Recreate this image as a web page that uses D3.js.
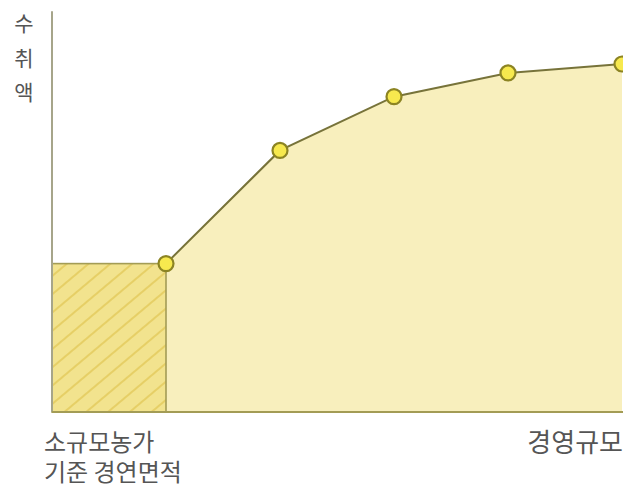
<!DOCTYPE html>
<html>
<head>
<meta charset="utf-8">
<script src="https://cdn.jsdelivr.net/npm/d3@7"></script>
<style>
html,body{margin:0;padding:0;background:#fff;}
svg{display:block;}
text{font-family:"Noto Sans CJK KR","Noto Sans",sans-serif;fill:#555;}
</style>
</head>
<body>
<svg id="chart" width="623" height="484"></svg>
<script>
// Data
const steps = [1, 2, 3, 4, 5];
const income = [40, 70.5, 85, 91.4, 93.8];
const yLabelChars = ["수", "취", "액"];
const xLabelLeft = ["소규모농가", "기준 경연면적"];
const xLabelRight = "경영규모";

const svg = d3.select("#chart");
const x = d3.scaleLinear().domain([0, 5]).range([52, 622]);
const y = d3.scaleLinear().domain([0, 100]).range([412, 41]);

const defs = svg.append("defs");
const pat = defs.append("pattern")
  .attr("id", "hatch").attr("patternUnits", "userSpaceOnUse")
  .attr("width", 14).attr("height", 14)
  .attr("patternTransform", "rotate(-40)");
pat.append("rect").attr("width", 14).attr("height", 14).attr("fill", "#f2e38e");
pat.append("line").attr("x1", 0).attr("y1", 7).attr("x2", 14).attr("y2", 7)
  .attr("stroke", "#e6cf66").attr("stroke-width", 2);

const pts = steps.map((s, i) => ({ s, v: income[i] }));

// area under the curve
const area = d3.area().x(d => x(d.s)).y0(y(0)).y1(d => y(d.v));
svg.append("path").datum(pts).attr("d", area).attr("fill", "#f8efbd");

// hatched base rectangle
svg.append("rect")
  .attr("x", x(0)).attr("y", y(income[0]))
  .attr("width", x(steps[0]) - x(0)).attr("height", y(0) - y(income[0]))
  .attr("fill", "url(#hatch)").attr("stroke", "#a39c55").attr("stroke-width", 1.6);

// axes
svg.append("line").attr("x1", x(0)).attr("x2", x(0)).attr("y1", y(0)).attr("y2", y(108))
  .attr("stroke", "#a6a58a").attr("stroke-width", 2);
svg.append("line").attr("x1", x(0)).attr("x2", 623).attr("y1", y(0)).attr("y2", y(0))
  .attr("stroke", "#a39c55").attr("stroke-width", 2);

// line
const line = d3.line().x(d => x(d.s)).y(d => y(d.v));
svg.append("path").datum(pts).attr("d", line).attr("fill", "none")
  .attr("stroke", "#77733a").attr("stroke-width", 2);

// points
svg.selectAll("circle.pt").data(pts).enter().append("circle")
  .attr("class", "pt").attr("cx", d => x(d.s)).attr("cy", d => y(d.v)).attr("r", 7.5)
  .attr("fill", "#f7e94e").attr("stroke", "#8c8423").attr("stroke-width", 2.2);

// y label (vertical characters)
const yPos = [22, 57, 91];
svg.selectAll("text.yl").data(yLabelChars).enter().append("text")
  .attr("class", "yl").attr("x", 24).attr("y", (d, i) => yPos[i])
  .attr("text-anchor", "middle").attr("dominant-baseline", "central")
  .attr("font-size", 21).text(d => d);

// x labels
svg.selectAll("text.xl").data(xLabelLeft).enter().append("text")
  .attr("class", "xl").attr("x", 44).attr("y", (d, i) => 440 + i * 30)
  .attr("dominant-baseline", "central").attr("font-size", 24).text(d => d);
svg.append("text").attr("x", 623).attr("y", 440).attr("text-anchor", "end")
  .attr("dominant-baseline", "central").attr("font-size", 26).text(xLabelRight);
</script>
</body>
</html>
